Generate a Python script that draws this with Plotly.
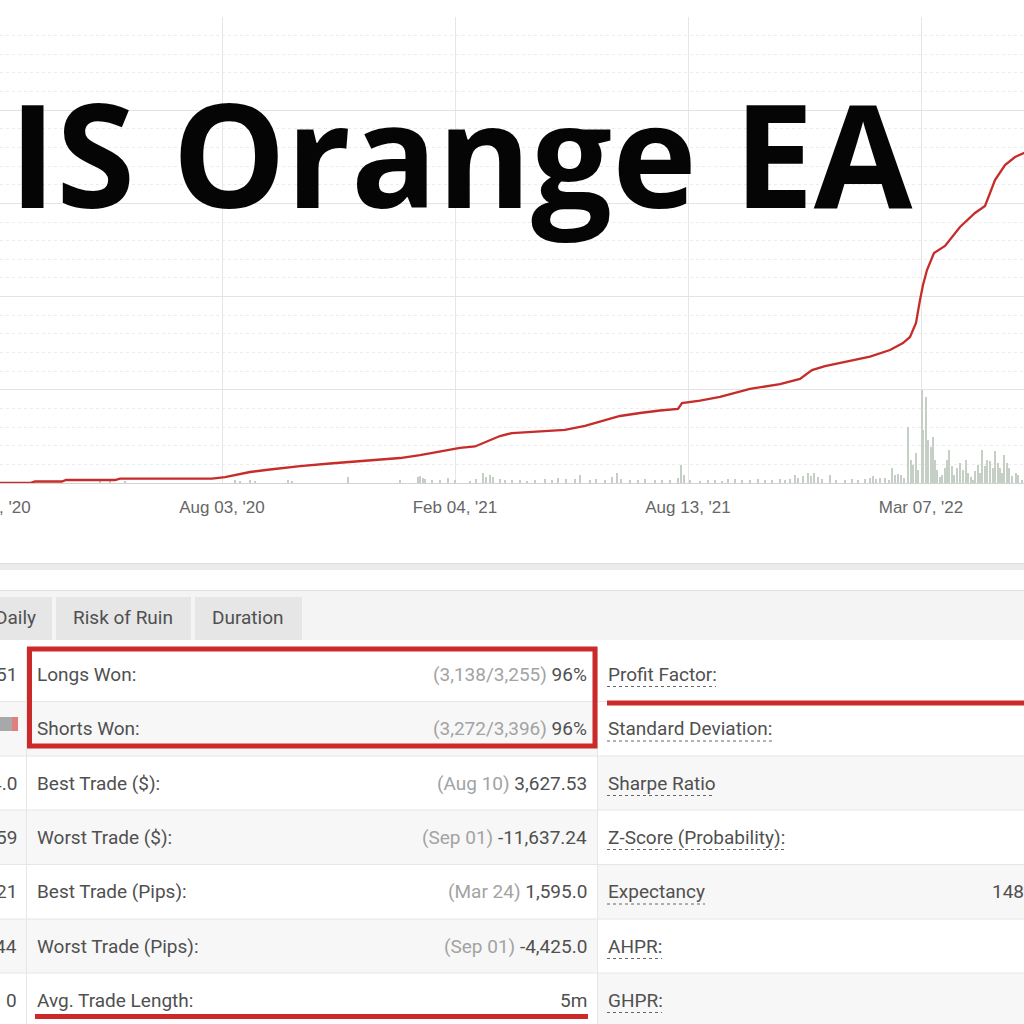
import plotly.graph_objects as go

W = H = 1024

# ---------------- data ----------------
tick_index = [0, 233, 466, 699, 932]
tick_labels = ["Jan 29, '20", "Aug 03, '20", "Feb 04, '21", "Aug 13, '21", "Mar 07, '22"]

growth_index = [11, 41, 46, 73, 77, 126, 131, 223, 236, 246,
                261, 281, 311, 341, 361, 391, 411, 431, 451, 471,
                486, 501, 511, 523, 551, 576, 596, 611, 631, 651,
                671, 689, 693, 711, 731, 761, 791, 811, 823, 836,
                861, 881, 901, 914, 921, 927, 931, 934, 938, 945,
                956, 971, 986, 996, 1006, 1016, 1026, 1037]
growth_value = [0, 0, 1.6, 1.6, 3.2, 3.2, 4.8, 4.8, 6.4, 8.6,
                11.8, 14.5, 18.2, 20.9, 22.5, 24.7, 26.8, 30.0, 33.8, 37.6,
                39.2, 46.1, 50.4, 53.6, 55.3, 56.9, 61.2, 65.5, 71.9, 75.1,
                77.8, 79.4, 85.8, 88.5, 92.3, 100.9, 106.2, 111.6, 121.2, 125.5,
                130.9, 135.7, 142.7, 150.2, 156.7, 171.7, 196.4, 212.4, 228.5, 246.8,
                254.3, 274.7, 289.7, 297.2, 325.1, 341.2, 349.8, 355]

bar_index = [111, 121, 136, 246, 251, 261, 266, 299, 303, 359,
             411, 429, 431, 434, 436, 443, 451, 459, 466, 481,
             487, 494, 497, 501, 504, 511, 516, 523, 531, 538,
             546, 556, 563, 569, 577, 586, 591, 601, 607, 616,
             623, 628, 632, 641, 649, 656, 666, 673, 681, 689,
             692, 695, 701, 711, 719, 726, 733, 739, 746, 753,
             761, 769, 776, 783, 791, 796, 801, 806, 809, 814,
             819, 822, 825, 829, 833, 841, 847, 856, 863, 869,
             876, 881, 884, 887, 891, 896, 900, 903, 906, 909,
             912, 915, 919, 922, 924, 927, 929, 933, 934, 937,
             939, 942, 944, 946, 948, 951, 953, 956, 958, 960,
             963, 965, 968, 971, 974, 977, 979, 982, 984, 986,
             989, 991, 993, 996, 998, 1001, 1004, 1006, 1009, 1011,
             1013, 1015, 1018, 1020, 1023, 1027, 1029, 1033]
bar_value = [2.1, 2.1, 2.1, 3.2, 2.1, 3.2, 2.1, 3.2, 2.1, 6.4,
             3.2, 6.4, 7.5, 5.4, 4.3, 3.2, 3.2, 5.4, 3.2, 2.1,
             4.3, 10.7, 6.4, 8.6, 6.4, 4.3, 3.2, 3.2, 3.2, 2.1,
             3.2, 4.3, 3.2, 5.4, 4.3, 4.3, 8.6, 3.2, 4.3, 3.2,
             6.4, 10.7, 4.3, 3.2, 3.2, 4.3, 3.2, 3.2, 3.2, 5.4,
             19.3, 8.6, 3.2, 2.1, 3.2, 3.2, 2.1, 4.3, 4.3, 3.2,
             3.2, 4.3, 3.2, 3.2, 4.3, 3.2, 4.3, 8.6, 5.4, 7.5,
             10.7, 7.5, 10.7, 6.4, 4.3, 8.6, 3.2, 3.2, 4.3, 3.2,
             4.3, 5.4, 7.5, 4.3, 5.4, 5.4, 3.2, 16.1, 8.6, 9.7,
             8.6, 5.4, 60.1, 24.7, 19.3, 32.2, 13.9, 99.8, 56.9, 92.3,
             46.1, 38.6, 49.4, 24.7, 13.9, 6.4, 8.6, 16.1, 24.7, 35.4,
             18.2, 8.6, 16.1, 21.5, 13.9, 24.7, 10.7, 6.4, 3.2, 12.9,
             19.3, 10.7, 35.4, 18.2, 24.7, 23.6, 16.1, 34.3, 21.5, 16.1,
             10.7, 30.0, 21.5, 16.1, 7.5, 10.7, 8.6, 3.2]

title_text = "IS Orange EA"
tabs = ["Daily", "Risk of Ruin", "Duration"]
left_values = ["51", "", "4.0", "59", "21", "44", "0"]
mid_labels = ["Longs Won:", "Shorts Won:", "Best Trade ($):", "Worst Trade ($):",
              "Best Trade (Pips):", "Worst Trade (Pips):", "Avg. Trade Length:"]
mid_notes = ["(3,138/3,255)", "(3,272/3,396)", "(Aug 10)", "(Sep 01)", "(Mar 24)", "(Sep 01)", ""]
mid_values = ["96%", "96%", "3,627.53", "-11,637.24", "1,595.0", "-4,425.0", "5m"]
right_labels = ["Profit Factor:", "Standard Deviation:", "Sharpe Ratio", "Z-Score (Probability):",
                "Expectancy", "AHPR:", "GHPR:"]
right_values = ["", "", "", "", "148", "", ""]

# ---------------- layout helpers ----------------
def fx(x):
    return x / W

def fy(y):
    return 1 - y / H

X_MIN, X_MAX = 11, 1035
RED = "#cc2a2a"
TXT = "#505050"
NOTE = "#a3a3a3"
FONT = "Roboto"

fig = go.Figure()
fig.add_trace(go.Bar(x=bar_index, y=bar_value, width=2.0,
                     marker=dict(color="#c6cfc6", line=dict(width=0)),
                     hoverinfo="skip", showlegend=False))
fig.add_trace(go.Scatter(x=growth_index, y=growth_value, mode="lines",
                         line=dict(color="#c62c2a", width=2.3),
                         hoverinfo="skip", showlegend=False))

shapes = []
annos = []

def rect(x0, y0, x1, y1, fill, line_color=None, lw=0, layer="above"):
    shapes.append(dict(type="rect", xref="paper", yref="paper",
                       x0=fx(x0), x1=fx(x1), y0=fy(y1), y1=fy(y0),
                       fillcolor=fill, layer=layer,
                       line=dict(color=line_color or fill, width=lw)))

def hline(x0, x1, y, color, w=1, dash="solid"):
    shapes.append(dict(type="line", xref="paper", yref="paper",
                       x0=fx(x0), x1=fx(x1), y0=fy(y), y1=fy(y),
                       line=dict(color=color, width=w, dash=dash)))

def vline(x, y0, y1, color, w=1):
    shapes.append(dict(type="line", xref="paper", yref="paper",
                       x0=fx(x), x1=fx(x), y0=fy(y0), y1=fy(y1),
                       line=dict(color=color, width=w)))

def text(x, y, s, anchor="left", size=19, color=TXT, family=FONT, **kw):
    annos.append(dict(xref="paper", yref="paper", x=fx(x), y=fy(y), text=s,
                      xanchor=anchor, yanchor="middle", showarrow=False,
                      font=dict(family=family, size=size, color=color, **kw)))

# chart bottom shadow
rect(0, 563, 1024, 570, "#ebebeb")
hline(0, 1024, 563.5, "#dcdcdc", 1)

# tab bar
rect(0, 590, 1024, 640, "#f4f4f4")
hline(0, 1024, 590.5, "#e2e2e2", 1)
tab_x = [(-10, 52), (56, 191), (195, 302)]
tab_text_x = [15, 123, 248]
for (a, b), tx, t in zip(tab_x, tab_text_x, tabs):
    rect(a, 597, b, 640, "#e6e6e6")
    text(tx, 617, t, anchor="center", size=19)

# table rows
bounds = [647, 701.5, 756, 810, 864.5, 919, 973, 1030]
centers = [674, 728.5, 783, 837, 891.5, 946, 1000]
for i in range(7):
    if i % 2 == 1:
        rect(27, bounds[i], 597, bounds[i + 1], "#f7f7f7")
        rect(0, bounds[i], 27, bounds[i + 1], "#f7f7f7")
    if i % 2 == 0 and i > 0:
        rect(597, bounds[i], 1024, bounds[i + 1], "#f7f7f7")
for b in bounds[1:-1]:
    hline(0, 1024, b, "#e6e6e6", 1)
vline(26.5, 647, 1024, "#e6e6e6", 1)
vline(597.5, 647, 1024, "#e6e6e6", 1)

# mini bar in left column
rect(0, 717, 12, 731, "#a8a8a8")
rect(12, 717, 18, 731, "#e07f7f")

for i in range(7):
    if left_values[i]:
        text(19, centers[i], left_values[i], anchor="right")
    text(35, centers[i], mid_labels[i])
    val = mid_values[i]
    if mid_notes[i]:
        val = f"<span style='color:{NOTE}'>{mid_notes[i]}</span> {val}"
    text(589, centers[i], val, anchor="right")
    text(606, centers[i], right_labels[i])
    if right_values[i]:
        text(990, centers[i], right_values[i])

underline_end = [716, 772, 715, 785, 705, 662, 662]
for i in range(7):
    hline(607, underline_end[i], centers[i] + 12.5, "#666666", 1, "dot")

# red highlight box and underlines
shapes.append(dict(type="rect", xref="paper", yref="paper",
                   x0=fx(29.5), x1=fx(595), y0=fy(746), y1=fy(649),
                   line=dict(color=RED, width=5), fillcolor="rgba(0,0,0,0)"))
hline(607, 1040, 703, RED, 5)
hline(35, 588, 1016.5, RED, 5)

# big title
text(7, 152, title_text, anchor="left", size=143, color="#050505",
     family="Open Sans", weight=700)

# first (cropped) x tick label
xf0 = (tick_index[0] - X_MIN) / (X_MAX - X_MIN)
annos.append(dict(xref="paper", yref="paper", x=xf0, y=fy(507), text=tick_labels[0],
                  xanchor="center", yanchor="middle", showarrow=False,
                  font=dict(family="Liberation Sans", size=17, color="#666666")))

fig.update_layout(
    width=W, height=H,
    margin=dict(l=0, r=0, t=0, b=0),
    paper_bgcolor="white", plot_bgcolor="white",
    bargap=0,
    xaxis=dict(domain=[0, 1], range=[X_MIN, X_MAX],
               tickvals=tick_index[1:], ticktext=tick_labels[1:],
               showgrid=True, gridcolor="#e6e6e6", gridwidth=1,
               ticks="outside", ticklen=9, tickcolor="rgba(0,0,0,0)",
               tickfont=dict(family="Liberation Sans", size=17, color="#666666"),
               showline=True, linecolor="#d3d3d3", linewidth=1,
               zeroline=False, fixedrange=True),
    yaxis=dict(domain=[fy(483), fy(17)], range=[0, 500],
               dtick=100, showticklabels=False, showgrid=True,
               gridcolor="#e3e3e3", gridwidth=1, zeroline=False,
               minor=dict(dtick=20, showgrid=True, gridcolor="#ececec", griddash="dot"),
               fixedrange=True),
    shapes=shapes,
    annotations=annos,
)

fig.write_html("out.html")
